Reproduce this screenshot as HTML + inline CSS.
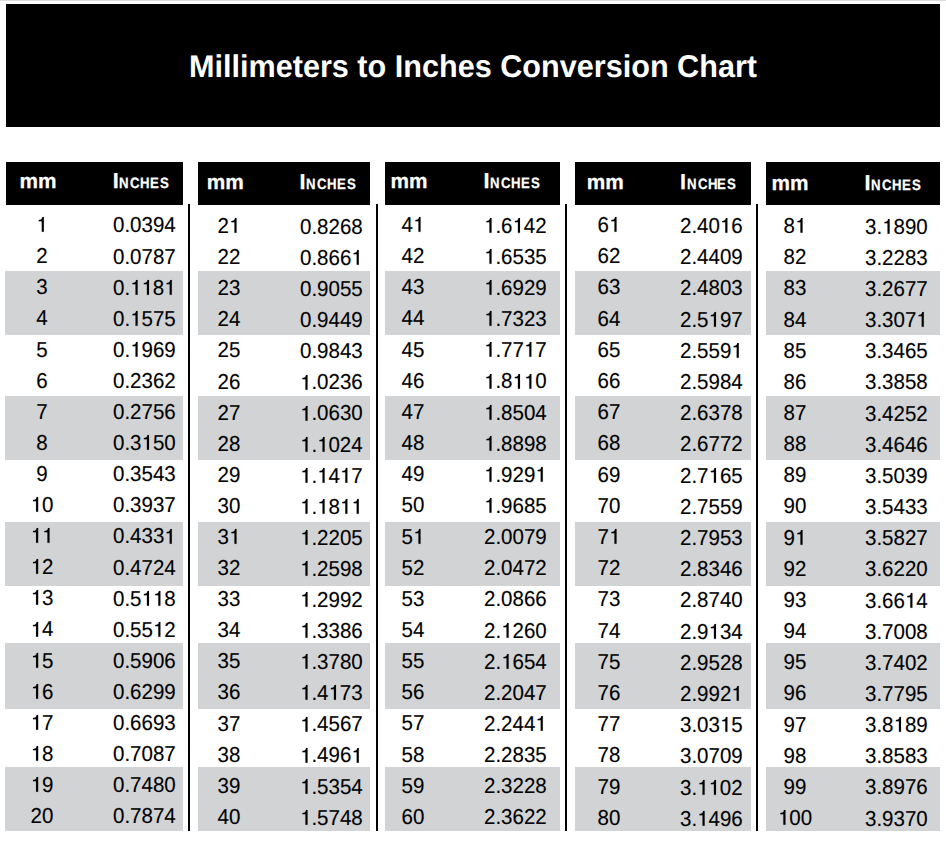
<!DOCTYPE html><html><head><meta charset="utf-8"><style>
html,body{margin:0;padding:0;}body{width:946px;height:844px;position:relative;overflow:hidden;background:#fff;font-family:"Liberation Sans",sans-serif;text-rendering:geometricPrecision;}
div{position:absolute;}
.t{white-space:nowrap;line-height:21.6px;font-size:21.6px;color:#000;letter-spacing:0px;transform:scaleX(0.949);transform-origin:0 0}.c{transform-origin:40px 0}
.c{text-align:center;width:80px;}
.t{-webkit-text-stroke:0.12px #000}.h{-webkit-text-stroke:0.25px #fff}
.h{white-space:nowrap;font-weight:bold;color:#fff;font-size:20.8px;line-height:20.8px;}
.sc{font-size:15.0px;letter-spacing:-1.5px;margin-left:0.5px}
.b{background:#000;}.g{background:#d1d3d4;}
.o{width:0.556em;height:0.688em;vertical-align:baseline;fill:currentColor;stroke:currentColor;stroke-width:6;margin-right:0px;overflow:visible}
</style></head><body>
<div style="left:0;top:0;width:946px;height:1px;background:#dcdcdc"></div>
<div class="b" style="left:6px;top:4px;width:934px;height:123px"></div>
<div style="left:0;width:946px;text-align:center;top:50.72px;font-size:31.4px;line-height:31.4px;font-weight:bold;color:#fff;white-space:nowrap;letter-spacing:0px;transform:scaleX(0.975);transform-origin:473px 0">Millimeters to Inches Conversion Chart</div>
<div class="g" style="left:5px;top:271px;width:178px;height:64px"></div>
<div class="g" style="left:5px;top:396px;width:178px;height:64px"></div>
<div class="g" style="left:5px;top:522px;width:178px;height:64px"></div>
<div class="g" style="left:5px;top:643px;width:178px;height:66px"></div>
<div class="g" style="left:5px;top:767px;width:178px;height:64px"></div>
<div class="g" style="left:198px;top:271px;width:172px;height:64px"></div>
<div class="g" style="left:198px;top:396px;width:172px;height:64px"></div>
<div class="g" style="left:198px;top:522px;width:172px;height:64px"></div>
<div class="g" style="left:198px;top:643px;width:172px;height:66px"></div>
<div class="g" style="left:198px;top:767px;width:172px;height:64px"></div>
<div class="g" style="left:385px;top:271px;width:175px;height:64px"></div>
<div class="g" style="left:385px;top:396px;width:175px;height:64px"></div>
<div class="g" style="left:385px;top:522px;width:175px;height:64px"></div>
<div class="g" style="left:385px;top:643px;width:175px;height:66px"></div>
<div class="g" style="left:385px;top:767px;width:175px;height:64px"></div>
<div class="g" style="left:575px;top:271px;width:176px;height:64px"></div>
<div class="g" style="left:575px;top:396px;width:176px;height:64px"></div>
<div class="g" style="left:575px;top:522px;width:176px;height:64px"></div>
<div class="g" style="left:575px;top:643px;width:176px;height:66px"></div>
<div class="g" style="left:575px;top:767px;width:176px;height:64px"></div>
<div class="g" style="left:766px;top:271px;width:174px;height:64px"></div>
<div class="g" style="left:766px;top:396px;width:174px;height:64px"></div>
<div class="g" style="left:766px;top:522px;width:174px;height:64px"></div>
<div class="g" style="left:766px;top:643px;width:174px;height:66px"></div>
<div class="g" style="left:766px;top:767px;width:174px;height:64px"></div>
<div class="b" style="left:6px;top:162px;width:177px;height:43px"></div>
<div class="h" style="left:19.60px;top:171.59px">mm</div>
<div class="h" style="left:112.66px;top:170.02px;font-size:21.6px;line-height:21.6px;transform:scaleX(1.0);transform-origin:0 0">I</div>
<div class="h" style="left:119.22px;top:175.90px;font-size:15.0px;line-height:15.0px;transform:scaleX(0.88);transform-origin:0 0">N</div>
<div class="h" style="left:130.16px;top:175.90px;font-size:15.0px;line-height:15.0px;transform:scaleX(0.88);transform-origin:0 0">C</div>
<div class="h" style="left:140.12px;top:175.90px;font-size:15.0px;line-height:15.0px;transform:scaleX(0.88);transform-origin:0 0">H</div>
<div class="h" style="left:150.02px;top:175.90px;font-size:15.0px;line-height:15.0px;transform:scaleX(0.88);transform-origin:0 0">E</div>
<div class="h" style="left:159.92px;top:175.90px;font-size:15.0px;line-height:15.0px;transform:scaleX(0.88);transform-origin:0 0">S</div>
<div class="b" style="left:198px;top:162px;width:172px;height:43px"></div>
<div class="h" style="left:206.70px;top:172.89px">mm</div>
<div class="h" style="left:299.56px;top:170.72px;font-size:21.6px;line-height:21.6px;transform:scaleX(1.0);transform-origin:0 0">I</div>
<div class="h" style="left:306.12px;top:176.60px;font-size:15.0px;line-height:15.0px;transform:scaleX(0.88);transform-origin:0 0">N</div>
<div class="h" style="left:317.06px;top:176.60px;font-size:15.0px;line-height:15.0px;transform:scaleX(0.88);transform-origin:0 0">C</div>
<div class="h" style="left:327.02px;top:176.60px;font-size:15.0px;line-height:15.0px;transform:scaleX(0.88);transform-origin:0 0">H</div>
<div class="h" style="left:336.92px;top:176.60px;font-size:15.0px;line-height:15.0px;transform:scaleX(0.88);transform-origin:0 0">E</div>
<div class="h" style="left:346.82px;top:176.60px;font-size:15.0px;line-height:15.0px;transform:scaleX(0.88);transform-origin:0 0">S</div>
<div class="b" style="left:385px;top:162px;width:175px;height:43px"></div>
<div class="h" style="left:390.60px;top:171.69px">mm</div>
<div class="h" style="left:483.56px;top:169.62px;font-size:21.6px;line-height:21.6px;transform:scaleX(1.0);transform-origin:0 0">I</div>
<div class="h" style="left:490.12px;top:175.50px;font-size:15.0px;line-height:15.0px;transform:scaleX(0.88);transform-origin:0 0">N</div>
<div class="h" style="left:501.06px;top:175.50px;font-size:15.0px;line-height:15.0px;transform:scaleX(0.88);transform-origin:0 0">C</div>
<div class="h" style="left:511.02px;top:175.50px;font-size:15.0px;line-height:15.0px;transform:scaleX(0.88);transform-origin:0 0">H</div>
<div class="h" style="left:520.92px;top:175.50px;font-size:15.0px;line-height:15.0px;transform:scaleX(0.88);transform-origin:0 0">E</div>
<div class="h" style="left:530.82px;top:175.50px;font-size:15.0px;line-height:15.0px;transform:scaleX(0.88);transform-origin:0 0">S</div>
<div class="b" style="left:575px;top:162px;width:176px;height:43px"></div>
<div class="h" style="left:586.80px;top:172.89px">mm</div>
<div class="h" style="left:680.06px;top:170.72px;font-size:21.6px;line-height:21.6px;transform:scaleX(1.0);transform-origin:0 0">I</div>
<div class="h" style="left:686.62px;top:176.60px;font-size:15.0px;line-height:15.0px;transform:scaleX(0.88);transform-origin:0 0">N</div>
<div class="h" style="left:697.56px;top:176.60px;font-size:15.0px;line-height:15.0px;transform:scaleX(0.88);transform-origin:0 0">C</div>
<div class="h" style="left:707.52px;top:176.60px;font-size:15.0px;line-height:15.0px;transform:scaleX(0.88);transform-origin:0 0">H</div>
<div class="h" style="left:717.42px;top:176.60px;font-size:15.0px;line-height:15.0px;transform:scaleX(0.88);transform-origin:0 0">E</div>
<div class="h" style="left:727.32px;top:176.60px;font-size:15.0px;line-height:15.0px;transform:scaleX(0.88);transform-origin:0 0">S</div>
<div class="b" style="left:766px;top:162px;width:174px;height:43px"></div>
<div class="h" style="left:771.60px;top:173.89px">mm</div>
<div class="h" style="left:864.56px;top:171.72px;font-size:21.6px;line-height:21.6px;transform:scaleX(1.0);transform-origin:0 0">I</div>
<div class="h" style="left:871.12px;top:177.60px;font-size:15.0px;line-height:15.0px;transform:scaleX(0.88);transform-origin:0 0">N</div>
<div class="h" style="left:882.06px;top:177.60px;font-size:15.0px;line-height:15.0px;transform:scaleX(0.88);transform-origin:0 0">C</div>
<div class="h" style="left:892.02px;top:177.60px;font-size:15.0px;line-height:15.0px;transform:scaleX(0.88);transform-origin:0 0">H</div>
<div class="h" style="left:901.92px;top:177.60px;font-size:15.0px;line-height:15.0px;transform:scaleX(0.88);transform-origin:0 0">E</div>
<div class="h" style="left:911.82px;top:177.60px;font-size:15.0px;line-height:15.0px;transform:scaleX(0.88);transform-origin:0 0">S</div>
<div class="b" style="left:188px;top:204px;width:2px;height:627px"></div>
<div class="b" style="left:376px;top:204px;width:2px;height:627px"></div>
<div class="b" style="left:565px;top:204px;width:2px;height:627px"></div>
<div class="b" style="left:756px;top:204px;width:2px;height:627px"></div>
<div class="t c" style="left:2.30px;top:214.12px"><svg class="o" viewBox="0 0 556 709" preserveAspectRatio="none"><path d="M266 204H117V141Q214 128 244 105Q274 82 297 0H368V709H266Z"/></svg></div>
<div class="t" style="left:113.00px;top:214.42px">0.0394</div>
<div class="t c" style="left:2.30px;top:245.22px">2</div>
<div class="t" style="left:113.00px;top:245.52px">0.0787</div>
<div class="t c" style="left:2.30px;top:276.32px">3</div>
<div class="t" style="left:113.00px;top:276.62px">0.<svg class="o" viewBox="0 0 556 709" preserveAspectRatio="none"><path d="M266 204H117V141Q214 128 244 105Q274 82 297 0H368V709H266Z"/></svg><svg class="o" viewBox="0 0 556 709" preserveAspectRatio="none"><path d="M266 204H117V141Q214 128 244 105Q274 82 297 0H368V709H266Z"/></svg>8<svg class="o" viewBox="0 0 556 709" preserveAspectRatio="none"><path d="M266 204H117V141Q214 128 244 105Q274 82 297 0H368V709H266Z"/></svg></div>
<div class="t c" style="left:2.30px;top:307.42px">4</div>
<div class="t" style="left:113.00px;top:307.72px">0.<svg class="o" viewBox="0 0 556 709" preserveAspectRatio="none"><path d="M266 204H117V141Q214 128 244 105Q274 82 297 0H368V709H266Z"/></svg>575</div>
<div class="t c" style="left:2.30px;top:338.52px">5</div>
<div class="t" style="left:113.00px;top:338.82px">0.<svg class="o" viewBox="0 0 556 709" preserveAspectRatio="none"><path d="M266 204H117V141Q214 128 244 105Q274 82 297 0H368V709H266Z"/></svg>969</div>
<div class="t c" style="left:2.30px;top:369.62px">6</div>
<div class="t" style="left:113.00px;top:369.92px">0.2362</div>
<div class="t c" style="left:2.30px;top:400.72px">7</div>
<div class="t" style="left:113.00px;top:401.02px">0.2756</div>
<div class="t c" style="left:2.30px;top:431.82px">8</div>
<div class="t" style="left:113.00px;top:432.12px">0.3<svg class="o" viewBox="0 0 556 709" preserveAspectRatio="none"><path d="M266 204H117V141Q214 128 244 105Q274 82 297 0H368V709H266Z"/></svg>50</div>
<div class="t c" style="left:2.30px;top:462.92px">9</div>
<div class="t" style="left:113.00px;top:463.22px">0.3543</div>
<div class="t c" style="left:2.30px;top:494.02px"><svg class="o" viewBox="0 0 556 709" preserveAspectRatio="none"><path d="M266 204H117V141Q214 128 244 105Q274 82 297 0H368V709H266Z"/></svg>0</div>
<div class="t" style="left:113.00px;top:494.32px">0.3937</div>
<div class="t c" style="left:2.30px;top:525.12px"><svg class="o" viewBox="0 0 556 709" preserveAspectRatio="none"><path d="M266 204H117V141Q214 128 244 105Q274 82 297 0H368V709H266Z"/></svg><svg class="o" viewBox="0 0 556 709" preserveAspectRatio="none"><path d="M266 204H117V141Q214 128 244 105Q274 82 297 0H368V709H266Z"/></svg></div>
<div class="t" style="left:113.00px;top:525.42px">0.433<svg class="o" viewBox="0 0 556 709" preserveAspectRatio="none"><path d="M266 204H117V141Q214 128 244 105Q274 82 297 0H368V709H266Z"/></svg></div>
<div class="t c" style="left:2.30px;top:556.22px"><svg class="o" viewBox="0 0 556 709" preserveAspectRatio="none"><path d="M266 204H117V141Q214 128 244 105Q274 82 297 0H368V709H266Z"/></svg>2</div>
<div class="t" style="left:113.00px;top:556.52px">0.4724</div>
<div class="t c" style="left:2.30px;top:587.32px"><svg class="o" viewBox="0 0 556 709" preserveAspectRatio="none"><path d="M266 204H117V141Q214 128 244 105Q274 82 297 0H368V709H266Z"/></svg>3</div>
<div class="t" style="left:113.00px;top:587.62px">0.5<svg class="o" viewBox="0 0 556 709" preserveAspectRatio="none"><path d="M266 204H117V141Q214 128 244 105Q274 82 297 0H368V709H266Z"/></svg><svg class="o" viewBox="0 0 556 709" preserveAspectRatio="none"><path d="M266 204H117V141Q214 128 244 105Q274 82 297 0H368V709H266Z"/></svg>8</div>
<div class="t c" style="left:2.30px;top:618.42px"><svg class="o" viewBox="0 0 556 709" preserveAspectRatio="none"><path d="M266 204H117V141Q214 128 244 105Q274 82 297 0H368V709H266Z"/></svg>4</div>
<div class="t" style="left:113.00px;top:618.72px">0.55<svg class="o" viewBox="0 0 556 709" preserveAspectRatio="none"><path d="M266 204H117V141Q214 128 244 105Q274 82 297 0H368V709H266Z"/></svg>2</div>
<div class="t c" style="left:2.30px;top:649.52px"><svg class="o" viewBox="0 0 556 709" preserveAspectRatio="none"><path d="M266 204H117V141Q214 128 244 105Q274 82 297 0H368V709H266Z"/></svg>5</div>
<div class="t" style="left:113.00px;top:649.82px">0.5906</div>
<div class="t c" style="left:2.30px;top:680.62px"><svg class="o" viewBox="0 0 556 709" preserveAspectRatio="none"><path d="M266 204H117V141Q214 128 244 105Q274 82 297 0H368V709H266Z"/></svg>6</div>
<div class="t" style="left:113.00px;top:680.92px">0.6299</div>
<div class="t c" style="left:2.30px;top:711.72px"><svg class="o" viewBox="0 0 556 709" preserveAspectRatio="none"><path d="M266 204H117V141Q214 128 244 105Q274 82 297 0H368V709H266Z"/></svg>7</div>
<div class="t" style="left:113.00px;top:712.02px">0.6693</div>
<div class="t c" style="left:2.30px;top:742.82px"><svg class="o" viewBox="0 0 556 709" preserveAspectRatio="none"><path d="M266 204H117V141Q214 128 244 105Q274 82 297 0H368V709H266Z"/></svg>8</div>
<div class="t" style="left:113.00px;top:743.12px">0.7087</div>
<div class="t c" style="left:2.30px;top:773.92px"><svg class="o" viewBox="0 0 556 709" preserveAspectRatio="none"><path d="M266 204H117V141Q214 128 244 105Q274 82 297 0H368V709H266Z"/></svg>9</div>
<div class="t" style="left:113.00px;top:774.22px">0.7480</div>
<div class="t c" style="left:2.30px;top:805.02px">20</div>
<div class="t" style="left:113.00px;top:805.32px">0.7874</div>
<div class="t c" style="left:188.70px;top:215.12px">2<svg class="o" viewBox="0 0 556 709" preserveAspectRatio="none"><path d="M266 204H117V141Q214 128 244 105Q274 82 297 0H368V709H266Z"/></svg></div>
<div class="t" style="left:300.00px;top:215.92px">0.8268</div>
<div class="t c" style="left:188.70px;top:246.21px">22</div>
<div class="t" style="left:300.00px;top:247.01px">0.866<svg class="o" viewBox="0 0 556 709" preserveAspectRatio="none"><path d="M266 204H117V141Q214 128 244 105Q274 82 297 0H368V709H266Z"/></svg></div>
<div class="t c" style="left:188.70px;top:277.30px">23</div>
<div class="t" style="left:300.00px;top:278.10px">0.9055</div>
<div class="t c" style="left:188.70px;top:308.39px">24</div>
<div class="t" style="left:300.00px;top:309.19px">0.9449</div>
<div class="t c" style="left:188.70px;top:339.48px">25</div>
<div class="t" style="left:300.00px;top:340.28px">0.9843</div>
<div class="t c" style="left:188.70px;top:370.57px">26</div>
<div class="t" style="left:300.00px;top:371.37px"><svg class="o" viewBox="0 0 556 709" preserveAspectRatio="none"><path d="M266 204H117V141Q214 128 244 105Q274 82 297 0H368V709H266Z"/></svg>.0236</div>
<div class="t c" style="left:188.70px;top:401.66px">27</div>
<div class="t" style="left:300.00px;top:402.46px"><svg class="o" viewBox="0 0 556 709" preserveAspectRatio="none"><path d="M266 204H117V141Q214 128 244 105Q274 82 297 0H368V709H266Z"/></svg>.0630</div>
<div class="t c" style="left:188.70px;top:432.75px">28</div>
<div class="t" style="left:300.00px;top:433.55px"><svg class="o" viewBox="0 0 556 709" preserveAspectRatio="none"><path d="M266 204H117V141Q214 128 244 105Q274 82 297 0H368V709H266Z"/></svg>.<svg class="o" viewBox="0 0 556 709" preserveAspectRatio="none"><path d="M266 204H117V141Q214 128 244 105Q274 82 297 0H368V709H266Z"/></svg>024</div>
<div class="t c" style="left:188.70px;top:463.84px">29</div>
<div class="t" style="left:300.00px;top:464.64px"><svg class="o" viewBox="0 0 556 709" preserveAspectRatio="none"><path d="M266 204H117V141Q214 128 244 105Q274 82 297 0H368V709H266Z"/></svg>.<svg class="o" viewBox="0 0 556 709" preserveAspectRatio="none"><path d="M266 204H117V141Q214 128 244 105Q274 82 297 0H368V709H266Z"/></svg>4<svg class="o" viewBox="0 0 556 709" preserveAspectRatio="none"><path d="M266 204H117V141Q214 128 244 105Q274 82 297 0H368V709H266Z"/></svg>7</div>
<div class="t c" style="left:188.70px;top:494.93px">30</div>
<div class="t" style="left:300.00px;top:495.73px"><svg class="o" viewBox="0 0 556 709" preserveAspectRatio="none"><path d="M266 204H117V141Q214 128 244 105Q274 82 297 0H368V709H266Z"/></svg>.<svg class="o" viewBox="0 0 556 709" preserveAspectRatio="none"><path d="M266 204H117V141Q214 128 244 105Q274 82 297 0H368V709H266Z"/></svg>8<svg class="o" viewBox="0 0 556 709" preserveAspectRatio="none"><path d="M266 204H117V141Q214 128 244 105Q274 82 297 0H368V709H266Z"/></svg><svg class="o" viewBox="0 0 556 709" preserveAspectRatio="none"><path d="M266 204H117V141Q214 128 244 105Q274 82 297 0H368V709H266Z"/></svg></div>
<div class="t c" style="left:188.70px;top:526.02px">3<svg class="o" viewBox="0 0 556 709" preserveAspectRatio="none"><path d="M266 204H117V141Q214 128 244 105Q274 82 297 0H368V709H266Z"/></svg></div>
<div class="t" style="left:300.00px;top:526.82px"><svg class="o" viewBox="0 0 556 709" preserveAspectRatio="none"><path d="M266 204H117V141Q214 128 244 105Q274 82 297 0H368V709H266Z"/></svg>.2205</div>
<div class="t c" style="left:188.70px;top:557.11px">32</div>
<div class="t" style="left:300.00px;top:557.91px"><svg class="o" viewBox="0 0 556 709" preserveAspectRatio="none"><path d="M266 204H117V141Q214 128 244 105Q274 82 297 0H368V709H266Z"/></svg>.2598</div>
<div class="t c" style="left:188.70px;top:588.20px">33</div>
<div class="t" style="left:300.00px;top:589.00px"><svg class="o" viewBox="0 0 556 709" preserveAspectRatio="none"><path d="M266 204H117V141Q214 128 244 105Q274 82 297 0H368V709H266Z"/></svg>.2992</div>
<div class="t c" style="left:188.70px;top:619.29px">34</div>
<div class="t" style="left:300.00px;top:620.09px"><svg class="o" viewBox="0 0 556 709" preserveAspectRatio="none"><path d="M266 204H117V141Q214 128 244 105Q274 82 297 0H368V709H266Z"/></svg>.3386</div>
<div class="t c" style="left:188.70px;top:650.38px">35</div>
<div class="t" style="left:300.00px;top:651.18px"><svg class="o" viewBox="0 0 556 709" preserveAspectRatio="none"><path d="M266 204H117V141Q214 128 244 105Q274 82 297 0H368V709H266Z"/></svg>.3780</div>
<div class="t c" style="left:188.70px;top:681.47px">36</div>
<div class="t" style="left:300.00px;top:682.27px"><svg class="o" viewBox="0 0 556 709" preserveAspectRatio="none"><path d="M266 204H117V141Q214 128 244 105Q274 82 297 0H368V709H266Z"/></svg>.4<svg class="o" viewBox="0 0 556 709" preserveAspectRatio="none"><path d="M266 204H117V141Q214 128 244 105Q274 82 297 0H368V709H266Z"/></svg>73</div>
<div class="t c" style="left:188.70px;top:712.56px">37</div>
<div class="t" style="left:300.00px;top:713.36px"><svg class="o" viewBox="0 0 556 709" preserveAspectRatio="none"><path d="M266 204H117V141Q214 128 244 105Q274 82 297 0H368V709H266Z"/></svg>.4567</div>
<div class="t c" style="left:188.70px;top:743.65px">38</div>
<div class="t" style="left:300.00px;top:744.45px"><svg class="o" viewBox="0 0 556 709" preserveAspectRatio="none"><path d="M266 204H117V141Q214 128 244 105Q274 82 297 0H368V709H266Z"/></svg>.496<svg class="o" viewBox="0 0 556 709" preserveAspectRatio="none"><path d="M266 204H117V141Q214 128 244 105Q274 82 297 0H368V709H266Z"/></svg></div>
<div class="t c" style="left:188.70px;top:774.74px">39</div>
<div class="t" style="left:300.00px;top:775.54px"><svg class="o" viewBox="0 0 556 709" preserveAspectRatio="none"><path d="M266 204H117V141Q214 128 244 105Q274 82 297 0H368V709H266Z"/></svg>.5354</div>
<div class="t c" style="left:188.70px;top:805.83px">40</div>
<div class="t" style="left:300.00px;top:806.63px"><svg class="o" viewBox="0 0 556 709" preserveAspectRatio="none"><path d="M266 204H117V141Q214 128 244 105Q274 82 297 0H368V709H266Z"/></svg>.5748</div>
<div class="t c" style="left:373.00px;top:214.02px">4<svg class="o" viewBox="0 0 556 709" preserveAspectRatio="none"><path d="M266 204H117V141Q214 128 244 105Q274 82 297 0H368V709H266Z"/></svg></div>
<div class="t" style="left:484.30px;top:214.62px"><svg class="o" viewBox="0 0 556 709" preserveAspectRatio="none"><path d="M266 204H117V141Q214 128 244 105Q274 82 297 0H368V709H266Z"/></svg>.6<svg class="o" viewBox="0 0 556 709" preserveAspectRatio="none"><path d="M266 204H117V141Q214 128 244 105Q274 82 297 0H368V709H266Z"/></svg>42</div>
<div class="t c" style="left:373.00px;top:245.17px">42</div>
<div class="t" style="left:484.30px;top:245.77px"><svg class="o" viewBox="0 0 556 709" preserveAspectRatio="none"><path d="M266 204H117V141Q214 128 244 105Q274 82 297 0H368V709H266Z"/></svg>.6535</div>
<div class="t c" style="left:373.00px;top:276.32px">43</div>
<div class="t" style="left:484.30px;top:276.92px"><svg class="o" viewBox="0 0 556 709" preserveAspectRatio="none"><path d="M266 204H117V141Q214 128 244 105Q274 82 297 0H368V709H266Z"/></svg>.6929</div>
<div class="t c" style="left:373.00px;top:307.47px">44</div>
<div class="t" style="left:484.30px;top:308.07px"><svg class="o" viewBox="0 0 556 709" preserveAspectRatio="none"><path d="M266 204H117V141Q214 128 244 105Q274 82 297 0H368V709H266Z"/></svg>.7323</div>
<div class="t c" style="left:373.00px;top:338.62px">45</div>
<div class="t" style="left:484.30px;top:339.22px"><svg class="o" viewBox="0 0 556 709" preserveAspectRatio="none"><path d="M266 204H117V141Q214 128 244 105Q274 82 297 0H368V709H266Z"/></svg>.77<svg class="o" viewBox="0 0 556 709" preserveAspectRatio="none"><path d="M266 204H117V141Q214 128 244 105Q274 82 297 0H368V709H266Z"/></svg>7</div>
<div class="t c" style="left:373.00px;top:369.77px">46</div>
<div class="t" style="left:484.30px;top:370.37px"><svg class="o" viewBox="0 0 556 709" preserveAspectRatio="none"><path d="M266 204H117V141Q214 128 244 105Q274 82 297 0H368V709H266Z"/></svg>.8<svg class="o" viewBox="0 0 556 709" preserveAspectRatio="none"><path d="M266 204H117V141Q214 128 244 105Q274 82 297 0H368V709H266Z"/></svg><svg class="o" viewBox="0 0 556 709" preserveAspectRatio="none"><path d="M266 204H117V141Q214 128 244 105Q274 82 297 0H368V709H266Z"/></svg>0</div>
<div class="t c" style="left:373.00px;top:400.92px">47</div>
<div class="t" style="left:484.30px;top:401.52px"><svg class="o" viewBox="0 0 556 709" preserveAspectRatio="none"><path d="M266 204H117V141Q214 128 244 105Q274 82 297 0H368V709H266Z"/></svg>.8504</div>
<div class="t c" style="left:373.00px;top:432.07px">48</div>
<div class="t" style="left:484.30px;top:432.67px"><svg class="o" viewBox="0 0 556 709" preserveAspectRatio="none"><path d="M266 204H117V141Q214 128 244 105Q274 82 297 0H368V709H266Z"/></svg>.8898</div>
<div class="t c" style="left:373.00px;top:463.22px">49</div>
<div class="t" style="left:484.30px;top:463.82px"><svg class="o" viewBox="0 0 556 709" preserveAspectRatio="none"><path d="M266 204H117V141Q214 128 244 105Q274 82 297 0H368V709H266Z"/></svg>.929<svg class="o" viewBox="0 0 556 709" preserveAspectRatio="none"><path d="M266 204H117V141Q214 128 244 105Q274 82 297 0H368V709H266Z"/></svg></div>
<div class="t c" style="left:373.00px;top:494.37px">50</div>
<div class="t" style="left:484.30px;top:494.97px"><svg class="o" viewBox="0 0 556 709" preserveAspectRatio="none"><path d="M266 204H117V141Q214 128 244 105Q274 82 297 0H368V709H266Z"/></svg>.9685</div>
<div class="t c" style="left:373.00px;top:525.52px">5<svg class="o" viewBox="0 0 556 709" preserveAspectRatio="none"><path d="M266 204H117V141Q214 128 244 105Q274 82 297 0H368V709H266Z"/></svg></div>
<div class="t" style="left:484.30px;top:526.12px">2.0079</div>
<div class="t c" style="left:373.00px;top:556.67px">52</div>
<div class="t" style="left:484.30px;top:557.27px">2.0472</div>
<div class="t c" style="left:373.00px;top:587.82px">53</div>
<div class="t" style="left:484.30px;top:588.42px">2.0866</div>
<div class="t c" style="left:373.00px;top:618.97px">54</div>
<div class="t" style="left:484.30px;top:619.57px">2.<svg class="o" viewBox="0 0 556 709" preserveAspectRatio="none"><path d="M266 204H117V141Q214 128 244 105Q274 82 297 0H368V709H266Z"/></svg>260</div>
<div class="t c" style="left:373.00px;top:650.12px">55</div>
<div class="t" style="left:484.30px;top:650.72px">2.<svg class="o" viewBox="0 0 556 709" preserveAspectRatio="none"><path d="M266 204H117V141Q214 128 244 105Q274 82 297 0H368V709H266Z"/></svg>654</div>
<div class="t c" style="left:373.00px;top:681.27px">56</div>
<div class="t" style="left:484.30px;top:681.87px">2.2047</div>
<div class="t c" style="left:373.00px;top:712.42px">57</div>
<div class="t" style="left:484.30px;top:713.02px">2.244<svg class="o" viewBox="0 0 556 709" preserveAspectRatio="none"><path d="M266 204H117V141Q214 128 244 105Q274 82 297 0H368V709H266Z"/></svg></div>
<div class="t c" style="left:373.00px;top:743.57px">58</div>
<div class="t" style="left:484.30px;top:744.17px">2.2835</div>
<div class="t c" style="left:373.00px;top:774.72px">59</div>
<div class="t" style="left:484.30px;top:775.32px">2.3228</div>
<div class="t c" style="left:373.00px;top:805.87px">60</div>
<div class="t" style="left:484.30px;top:806.47px">2.3622</div>
<div class="t c" style="left:568.70px;top:214.02px">6<svg class="o" viewBox="0 0 556 709" preserveAspectRatio="none"><path d="M266 204H117V141Q214 128 244 105Q274 82 297 0H368V709H266Z"/></svg></div>
<div class="t" style="left:680.30px;top:214.92px">2.40<svg class="o" viewBox="0 0 556 709" preserveAspectRatio="none"><path d="M266 204H117V141Q214 128 244 105Q274 82 297 0H368V709H266Z"/></svg>6</div>
<div class="t c" style="left:568.70px;top:245.22px">62</div>
<div class="t" style="left:680.30px;top:246.12px">2.4409</div>
<div class="t c" style="left:568.70px;top:276.42px">63</div>
<div class="t" style="left:680.30px;top:277.32px">2.4803</div>
<div class="t c" style="left:568.70px;top:307.62px">64</div>
<div class="t" style="left:680.30px;top:308.52px">2.5<svg class="o" viewBox="0 0 556 709" preserveAspectRatio="none"><path d="M266 204H117V141Q214 128 244 105Q274 82 297 0H368V709H266Z"/></svg>97</div>
<div class="t c" style="left:568.70px;top:338.82px">65</div>
<div class="t" style="left:680.30px;top:339.72px">2.559<svg class="o" viewBox="0 0 556 709" preserveAspectRatio="none"><path d="M266 204H117V141Q214 128 244 105Q274 82 297 0H368V709H266Z"/></svg></div>
<div class="t c" style="left:568.70px;top:370.02px">66</div>
<div class="t" style="left:680.30px;top:370.92px">2.5984</div>
<div class="t c" style="left:568.70px;top:401.22px">67</div>
<div class="t" style="left:680.30px;top:402.12px">2.6378</div>
<div class="t c" style="left:568.70px;top:432.42px">68</div>
<div class="t" style="left:680.30px;top:433.32px">2.6772</div>
<div class="t c" style="left:568.70px;top:463.62px">69</div>
<div class="t" style="left:680.30px;top:464.52px">2.7<svg class="o" viewBox="0 0 556 709" preserveAspectRatio="none"><path d="M266 204H117V141Q214 128 244 105Q274 82 297 0H368V709H266Z"/></svg>65</div>
<div class="t c" style="left:568.70px;top:494.82px">70</div>
<div class="t" style="left:680.30px;top:495.72px">2.7559</div>
<div class="t c" style="left:568.70px;top:526.02px">7<svg class="o" viewBox="0 0 556 709" preserveAspectRatio="none"><path d="M266 204H117V141Q214 128 244 105Q274 82 297 0H368V709H266Z"/></svg></div>
<div class="t" style="left:680.30px;top:526.92px">2.7953</div>
<div class="t c" style="left:568.70px;top:557.22px">72</div>
<div class="t" style="left:680.30px;top:558.12px">2.8346</div>
<div class="t c" style="left:568.70px;top:588.42px">73</div>
<div class="t" style="left:680.30px;top:589.32px">2.8740</div>
<div class="t c" style="left:568.70px;top:619.62px">74</div>
<div class="t" style="left:680.30px;top:620.52px">2.9<svg class="o" viewBox="0 0 556 709" preserveAspectRatio="none"><path d="M266 204H117V141Q214 128 244 105Q274 82 297 0H368V709H266Z"/></svg>34</div>
<div class="t c" style="left:568.70px;top:650.82px">75</div>
<div class="t" style="left:680.30px;top:651.72px">2.9528</div>
<div class="t c" style="left:568.70px;top:682.02px">76</div>
<div class="t" style="left:680.30px;top:682.92px">2.992<svg class="o" viewBox="0 0 556 709" preserveAspectRatio="none"><path d="M266 204H117V141Q214 128 244 105Q274 82 297 0H368V709H266Z"/></svg></div>
<div class="t c" style="left:568.70px;top:713.22px">77</div>
<div class="t" style="left:680.30px;top:714.12px">3.03<svg class="o" viewBox="0 0 556 709" preserveAspectRatio="none"><path d="M266 204H117V141Q214 128 244 105Q274 82 297 0H368V709H266Z"/></svg>5</div>
<div class="t c" style="left:568.70px;top:744.42px">78</div>
<div class="t" style="left:680.30px;top:745.32px">3.0709</div>
<div class="t c" style="left:568.70px;top:775.62px">79</div>
<div class="t" style="left:680.30px;top:776.52px">3.<svg class="o" viewBox="0 0 556 709" preserveAspectRatio="none"><path d="M266 204H117V141Q214 128 244 105Q274 82 297 0H368V709H266Z"/></svg><svg class="o" viewBox="0 0 556 709" preserveAspectRatio="none"><path d="M266 204H117V141Q214 128 244 105Q274 82 297 0H368V709H266Z"/></svg>02</div>
<div class="t c" style="left:568.70px;top:806.82px">80</div>
<div class="t" style="left:680.30px;top:807.72px">3.<svg class="o" viewBox="0 0 556 709" preserveAspectRatio="none"><path d="M266 204H117V141Q214 128 244 105Q274 82 297 0H368V709H266Z"/></svg>496</div>
<div class="t c" style="left:754.50px;top:215.12px">8<svg class="o" viewBox="0 0 556 709" preserveAspectRatio="none"><path d="M266 204H117V141Q214 128 244 105Q274 82 297 0H368V709H266Z"/></svg></div>
<div class="t" style="left:865.10px;top:215.72px">3.<svg class="o" viewBox="0 0 556 709" preserveAspectRatio="none"><path d="M266 204H117V141Q214 128 244 105Q274 82 297 0H368V709H266Z"/></svg>890</div>
<div class="t c" style="left:754.50px;top:246.27px">82</div>
<div class="t" style="left:865.10px;top:246.87px">3.2283</div>
<div class="t c" style="left:754.50px;top:277.42px">83</div>
<div class="t" style="left:865.10px;top:278.02px">3.2677</div>
<div class="t c" style="left:754.50px;top:308.57px">84</div>
<div class="t" style="left:865.10px;top:309.17px">3.307<svg class="o" viewBox="0 0 556 709" preserveAspectRatio="none"><path d="M266 204H117V141Q214 128 244 105Q274 82 297 0H368V709H266Z"/></svg></div>
<div class="t c" style="left:754.50px;top:339.72px">85</div>
<div class="t" style="left:865.10px;top:340.32px">3.3465</div>
<div class="t c" style="left:754.50px;top:370.87px">86</div>
<div class="t" style="left:865.10px;top:371.47px">3.3858</div>
<div class="t c" style="left:754.50px;top:402.02px">87</div>
<div class="t" style="left:865.10px;top:402.62px">3.4252</div>
<div class="t c" style="left:754.50px;top:433.17px">88</div>
<div class="t" style="left:865.10px;top:433.77px">3.4646</div>
<div class="t c" style="left:754.50px;top:464.32px">89</div>
<div class="t" style="left:865.10px;top:464.92px">3.5039</div>
<div class="t c" style="left:754.50px;top:495.47px">90</div>
<div class="t" style="left:865.10px;top:496.07px">3.5433</div>
<div class="t c" style="left:754.50px;top:526.62px">9<svg class="o" viewBox="0 0 556 709" preserveAspectRatio="none"><path d="M266 204H117V141Q214 128 244 105Q274 82 297 0H368V709H266Z"/></svg></div>
<div class="t" style="left:865.10px;top:527.22px">3.5827</div>
<div class="t c" style="left:754.50px;top:557.77px">92</div>
<div class="t" style="left:865.10px;top:558.37px">3.6220</div>
<div class="t c" style="left:754.50px;top:588.92px">93</div>
<div class="t" style="left:865.10px;top:589.52px">3.66<svg class="o" viewBox="0 0 556 709" preserveAspectRatio="none"><path d="M266 204H117V141Q214 128 244 105Q274 82 297 0H368V709H266Z"/></svg>4</div>
<div class="t c" style="left:754.50px;top:620.07px">94</div>
<div class="t" style="left:865.10px;top:620.67px">3.7008</div>
<div class="t c" style="left:754.50px;top:651.22px">95</div>
<div class="t" style="left:865.10px;top:651.82px">3.7402</div>
<div class="t c" style="left:754.50px;top:682.37px">96</div>
<div class="t" style="left:865.10px;top:682.97px">3.7795</div>
<div class="t c" style="left:754.50px;top:713.52px">97</div>
<div class="t" style="left:865.10px;top:714.12px">3.8<svg class="o" viewBox="0 0 556 709" preserveAspectRatio="none"><path d="M266 204H117V141Q214 128 244 105Q274 82 297 0H368V709H266Z"/></svg>89</div>
<div class="t c" style="left:754.50px;top:744.67px">98</div>
<div class="t" style="left:865.10px;top:745.27px">3.8583</div>
<div class="t c" style="left:754.50px;top:775.82px">99</div>
<div class="t" style="left:865.10px;top:776.42px">3.8976</div>
<div class="t c" style="left:754.50px;top:806.97px"><svg class="o" viewBox="0 0 556 709" preserveAspectRatio="none"><path d="M266 204H117V141Q214 128 244 105Q274 82 297 0H368V709H266Z"/></svg>00</div>
<div class="t" style="left:865.10px;top:807.57px">3.9370</div>
</body></html>
